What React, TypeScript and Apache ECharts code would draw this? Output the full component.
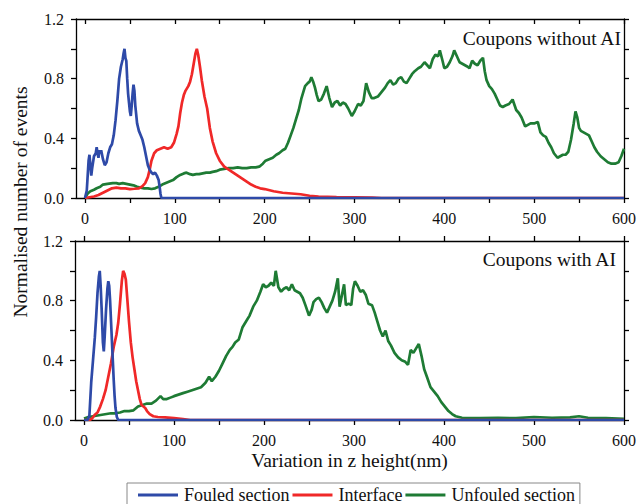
import React, { useEffect, useRef } from "react";
import * as echarts from "echarts";

const xLabelValues = [0, 100, 200, 300, 400, 500, 600];
const xTickValues = [0, 50, 100, 150, 200, 250, 300, 350, 400, 450, 500, 550, 600];
const yLabelValues = [0, 0.4, 0.8, 1.2];
const yTickValues = [0, 0.2, 0.4, 0.6, 0.8, 1.0, 1.2];
const seriesNames = ["Fouled section", "Interface", "Unfouled section"];
const panelTitles = ["Coupons without AI", "Coupons with AI"];

// Top panel: coupons without AI
const fouledTop = [
  [0, 0], [2, 0.05], [4, 0.25], [5, 0.29], [6, 0.22], [7, 0.15], [8, 0.2], [10, 0.28], [12, 0.3], [13, 0.34],
  [14, 0.3], [15, 0.27], [16, 0.32], [17, 0.3], [18, 0.32], [20, 0.26], [22, 0.22], [24, 0.24], [26, 0.3],
  [28, 0.34], [30, 0.36], [32, 0.42], [34, 0.52], [36, 0.65], [38, 0.8], [40, 0.88], [42, 0.93], [43, 0.97],
  [44, 1.0], [45, 0.94], [46, 0.92], [47, 0.8], [48, 0.7], [49, 0.64], [50, 0.58], [51, 0.55], [52, 0.62],
  [53, 0.7], [54, 0.76], [55, 0.72], [56, 0.62], [57, 0.56], [58, 0.5], [60, 0.45], [62, 0.42], [64, 0.39],
  [66, 0.34], [68, 0.28], [70, 0.22], [72, 0.19], [74, 0.17], [76, 0.16], [78, 0.17], [80, 0.15], [82, 0.12],
  [83, 0.08], [84, 0.03], [85, 0], [600, 0],
];
const interfaceTop = [
  [0, 0], [5, 0.005], [10, 0.01], [15, 0.02], [20, 0.035], [25, 0.05], [30, 0.065], [35, 0.07], [40, 0.065],
  [45, 0.065], [50, 0.06], [55, 0.062], [60, 0.065], [64, 0.08], [67, 0.1], [70, 0.14], [72, 0.19], [74, 0.25],
  [77, 0.3], [80, 0.32], [84, 0.33], [88, 0.34], [92, 0.33], [96, 0.34], [99, 0.37], [102, 0.43], [104, 0.48],
  [106, 0.57], [108, 0.64], [110, 0.69], [112, 0.72], [115, 0.75], [117, 0.78], [119, 0.83], [121, 0.9],
  [123, 0.97], [124.5, 1.0], [126, 0.96], [128, 0.88], [130, 0.79], [133, 0.68], [136, 0.6], [139, 0.47],
  [142, 0.38], [146, 0.3], [150, 0.25], [155, 0.21], [160, 0.19], [165, 0.17], [170, 0.15], [175, 0.13],
  [180, 0.11], [185, 0.09], [190, 0.075], [195, 0.065], [200, 0.06], [210, 0.045], [220, 0.035], [230, 0.03],
  [240, 0.025], [250, 0.015], [260, 0.01], [280, 0.006], [300, 0.004], [320, 0.002], [330, 0], [600, 0],
];
const unfouledTop = [
  [0, 0], [3, 0.03], [6, 0.045], [10, 0.055], [13, 0.065], [17, 0.075], [20, 0.09], [25, 0.095], [31, 0.1],
  [35, 0.1], [38, 0.095], [42, 0.1], [46, 0.095], [50, 0.09], [54, 0.085], [58, 0.075], [62, 0.07], [66, 0.065],
  [70, 0.065], [74, 0.06], [78, 0.065], [82, 0.075], [86, 0.09], [90, 0.1], [94, 0.11], [98, 0.12], [102, 0.14],
  [106, 0.155], [110, 0.165], [113, 0.17], [117, 0.16], [120, 0.155], [124, 0.16], [127, 0.16], [131, 0.165],
  [135, 0.17], [139, 0.17], [142, 0.175], [146, 0.18], [150, 0.19], [155, 0.195], [160, 0.2], [165, 0.2],
  [170, 0.205], [175, 0.2], [180, 0.2], [185, 0.205], [190, 0.205], [194, 0.21], [198, 0.23], [201, 0.25],
  [205, 0.26], [209, 0.27], [213, 0.29], [216, 0.3], [220, 0.32], [223, 0.33], [226, 0.37], [229, 0.42],
  [232, 0.47], [235, 0.53], [238, 0.59], [241, 0.67], [243, 0.71], [245, 0.75], [248, 0.77], [250, 0.78],
  [252, 0.81], [254, 0.78], [256, 0.74], [258, 0.69], [260, 0.65], [263, 0.66], [266, 0.7], [269, 0.75],
  [272, 0.67], [275, 0.61], [278, 0.64], [281, 0.65], [284, 0.62], [287, 0.64], [290, 0.63], [293, 0.6],
  [297, 0.55], [300, 0.58], [304, 0.63], [307, 0.62], [310, 0.65], [313, 0.77], [316, 0.71], [319, 0.67],
  [322, 0.67], [326, 0.68], [330, 0.71], [334, 0.74], [337, 0.77], [340, 0.79], [343, 0.76], [346, 0.77],
  [349, 0.8], [352, 0.81], [355, 0.78], [358, 0.77], [361, 0.8], [364, 0.83], [367, 0.85], [371, 0.87],
  [374, 0.88], [378, 0.91], [381, 0.89], [384, 0.87], [387, 0.93], [390, 0.96], [393, 0.95], [395, 0.99],
  [398, 0.92], [400, 0.87], [403, 0.88], [406, 0.91], [409, 0.95], [411, 0.99], [414, 0.95], [417, 0.91],
  [420, 0.9], [423, 0.89], [426, 0.88], [428, 0.87], [431, 0.92], [434, 0.9], [437, 0.89], [440, 0.92],
  [443, 0.94], [445, 0.85], [447, 0.79], [450, 0.75], [453, 0.73], [456, 0.7], [459, 0.66], [462, 0.62],
  [465, 0.61], [468, 0.62], [472, 0.63], [476, 0.66], [480, 0.59], [483, 0.57], [486, 0.54], [490, 0.48],
  [493, 0.49], [496, 0.5], [500, 0.5], [504, 0.51], [507, 0.44], [510, 0.42], [513, 0.41], [516, 0.37],
  [519, 0.34], [522, 0.3], [526, 0.27], [529, 0.28], [532, 0.29], [535, 0.29], [538, 0.31], [541, 0.39],
  [544, 0.5], [546, 0.58], [548, 0.54], [550, 0.47], [552, 0.45], [555, 0.44], [558, 0.43], [561, 0.42],
  [564, 0.38], [567, 0.34], [570, 0.31], [574, 0.28], [578, 0.26], [582, 0.24], [586, 0.23], [590, 0.23],
  [594, 0.24], [597, 0.28], [600, 0.33],
];

// Bottom panel: coupons with AI
const fouledBottom = [
  [0, 0], [4, 0], [6, 0.03], [8, 0.25], [10, 0.4], [12, 0.55], [13.5, 0.69], [15, 0.85], [16.5, 0.96],
  [17.5, 1.0], [18.5, 0.9], [19.5, 0.76], [21, 0.52], [22, 0.46], [23, 0.56], [24.5, 0.74], [26, 0.88],
  [27, 0.93], [28, 0.9], [29, 0.8], [30.5, 0.6], [32, 0.4], [33, 0.27], [34, 0.16], [35, 0.08], [36.5, 0.02],
  [38, 0], [600, 0],
];
const interfaceBottom = [
  [0, 0], [6, 0], [9, 0.01], [12, 0.035], [15, 0.05], [18, 0.09], [21, 0.14], [24, 0.2], [27, 0.29],
  [30, 0.38], [33, 0.49], [36, 0.57], [38, 0.65], [40, 0.78], [42, 0.93], [43.5, 1.0], [45, 0.98],
  [46.5, 0.94], [48, 0.82], [50, 0.66], [52, 0.52], [54, 0.42], [56, 0.34], [58, 0.26], [60, 0.2], [62, 0.14],
  [64, 0.1], [66, 0.09], [68, 0.08], [70, 0.06], [73, 0.04], [77, 0.025], [82, 0.02], [90, 0.018],
  [100, 0.013], [110, 0.006], [118, 0], [600, 0],
];
const unfouledBottom = [
  [0, 0.01], [5, 0.02], [10, 0.025], [15, 0.03], [20, 0.035], [25, 0.04], [30, 0.045], [35, 0.045], [40, 0.05],
  [45, 0.06], [50, 0.06], [55, 0.065], [60, 0.09], [65, 0.1], [70, 0.11], [75, 0.11], [80, 0.13], [85, 0.16],
  [88, 0.14], [92, 0.14], [96, 0.15], [100, 0.16], [105, 0.17], [110, 0.18], [115, 0.19], [120, 0.2],
  [125, 0.21], [130, 0.22], [135, 0.25], [139, 0.29], [142, 0.26], [146, 0.29], [150, 0.33], [154, 0.38],
  [158, 0.43], [162, 0.47], [165, 0.49], [168, 0.52], [172, 0.54], [176, 0.62], [180, 0.66], [184, 0.7],
  [188, 0.76], [192, 0.8], [196, 0.86], [199, 0.91], [202, 0.89], [205, 0.9], [208, 0.92], [211, 0.9],
  [213, 1.0], [216, 0.89], [219, 0.86], [222, 0.88], [225, 0.89], [228, 0.87], [231, 0.91], [234, 0.87],
  [237, 0.86], [240, 0.85], [243, 0.82], [246, 0.77], [250, 0.7], [253, 0.74], [255, 0.79], [258, 0.81],
  [261, 0.82], [264, 0.79], [267, 0.75], [270, 0.72], [273, 0.76], [276, 0.8], [279, 0.86], [282, 0.95],
  [284, 0.76], [287, 0.85], [289, 0.91], [291, 0.77], [294, 0.78], [297, 0.77], [299, 0.88], [301, 0.93],
  [304, 0.9], [307, 0.86], [310, 0.87], [313, 0.84], [316, 0.78], [320, 0.77], [323, 0.72], [326, 0.66],
  [329, 0.6], [332, 0.56], [335, 0.6], [338, 0.53], [341, 0.5], [345, 0.45], [349, 0.42], [353, 0.4],
  [357, 0.39], [360, 0.37], [363, 0.47], [366, 0.45], [369, 0.48], [372, 0.51], [375, 0.43], [378, 0.34],
  [381, 0.29], [385, 0.22], [389, 0.19], [393, 0.16], [397, 0.12], [401, 0.09], [405, 0.06], [409, 0.04],
  [413, 0.025], [420, 0.015], [440, 0.012], [460, 0.015], [480, 0.012], [500, 0.02], [520, 0.015],
  [540, 0.018], [550, 0.025], [560, 0.015], [580, 0.012], [600, 0.008],
];

const COLORS = ["#2E4AA8", "#F02828", "#1E7B34"];
const FONT = "'Liberation Serif', 'Times New Roman', serif";

export default function App() {
  const ref = useRef<HTMLDivElement>(null);

  useEffect(() => {
    if (!ref.current) return;
    const chart = echarts.init(ref.current, null, { renderer: "svg" });

    const axisLine = { show: true, onZero: false, lineStyle: { color: "#000", width: 1.3 } };
    const tickStyle = { color: "#000", width: 1.3 };
    const grids = [
      { left: 76, right: 12, top: 19, height: 179 },
      { left: 75, right: 13, top: 241, height: 179 },
    ];

    const xAxes: any[] = [];
    const yAxes: any[] = [];
    [0, 1].forEach((g) => {
      xAxes.push({
        type: "value", gridIndex: g, position: "bottom", min: -10, max: 600,
        axisLine, splitLine: { show: false },
        axisTick: { show: true, length: 5, customValues: xTickValues, lineStyle: tickStyle },
        axisLabel: {
          customValues: xLabelValues, margin: 12, fontFamily: FONT, fontSize: 16, color: "#111",
        },
        ...(g === 1
          ? {
              name: "Variation in z height(nm)", nameLocation: "middle", nameGap: 30,
              nameTextStyle: { fontFamily: FONT, fontSize: 19.5, color: "#111" },
            }
          : {}),
      });
      xAxes.push({
        type: "value", gridIndex: g, position: "top", min: -10, max: 600,
        axisLine, splitLine: { show: false },
        axisTick: {
          show: true, length: 5, inside: g === 0, customValues: xTickValues, lineStyle: tickStyle,
        },
        axisLabel: { show: false },
      });
      yAxes.push({
        type: "value", gridIndex: g, position: "left", min: 0, max: 1.2,
        axisLine, splitLine: { show: false },
        axisTick: { show: true, length: 5, customValues: yTickValues, lineStyle: tickStyle },
        axisLabel: {
          customValues: yLabelValues, margin: 12, fontFamily: FONT, fontSize: 16, color: "#111",
          formatter: (v: number) => v.toFixed(1),
        },
      });
      yAxes.push({
        type: "value", gridIndex: g, position: "right", min: 0, max: 1.2,
        axisLine, splitLine: { show: false },
        axisTick: { show: true, length: 5, customValues: yTickValues, lineStyle: tickStyle },
        axisLabel: { show: false },
      });
    });

    const panels = [
      [fouledTop, interfaceTop, unfouledTop],
      [fouledBottom, interfaceBottom, unfouledBottom],
    ];
    const series: any[] = [];
    panels.forEach((p, g) => {
      [2, 1, 0].forEach((i) => {
        series.push({
          type: "line", name: seriesNames[i], data: p[i],
          xAxisIndex: g * 2, yAxisIndex: g * 2,
          showSymbol: false, symbol: "none",
          lineStyle: { color: COLORS[i], width: 2.7 },
          itemStyle: { color: COLORS[i] },
          z: 10 - i,
        });
      });
    });

    chart.setOption({
      animation: false,
      backgroundColor: "#fff",
      grid: grids,
      xAxis: xAxes,
      yAxis: yAxes,
      series,
      legend: {
        data: seriesNames,
        left: 127, top: 483,
        orient: "horizontal",
        icon: "rect", itemWidth: 40, itemHeight: 3, itemGap: 3,
        padding: [3, 5, 12, 11],
        borderColor: "#888", borderWidth: 1,
        textStyle: { fontFamily: FONT, fontSize: 18, lineHeight: 18, color: "#111", padding: [0, 0, 0, 1] },
      },
      graphic: [
        {
          type: "text", right: 17, top: 28,
          style: { text: panelTitles[0], fontFamily: FONT, fontSize: 19.5, fill: "#111" },
        },
        {
          type: "text", right: 22, top: 249,
          style: { text: panelTitles[1], fontFamily: FONT, fontSize: 19.5, fill: "#111" },
        },
        {
          type: "text", x: 20, y: 202, rotation: Math.PI / 2,
          style: {
            text: "Normalised number of events", fontFamily: FONT, fontSize: 19.5, fill: "#111",
            textAlign: "center", textVerticalAlign: "middle",
          },
        },
      ],
    });

    return () => chart.dispose();
  }, []);

  return (
    <div
      ref={ref}
      style={{ position: "absolute", left: 0, top: 0, width: 639, height: 504 }}
    />
  );
}
